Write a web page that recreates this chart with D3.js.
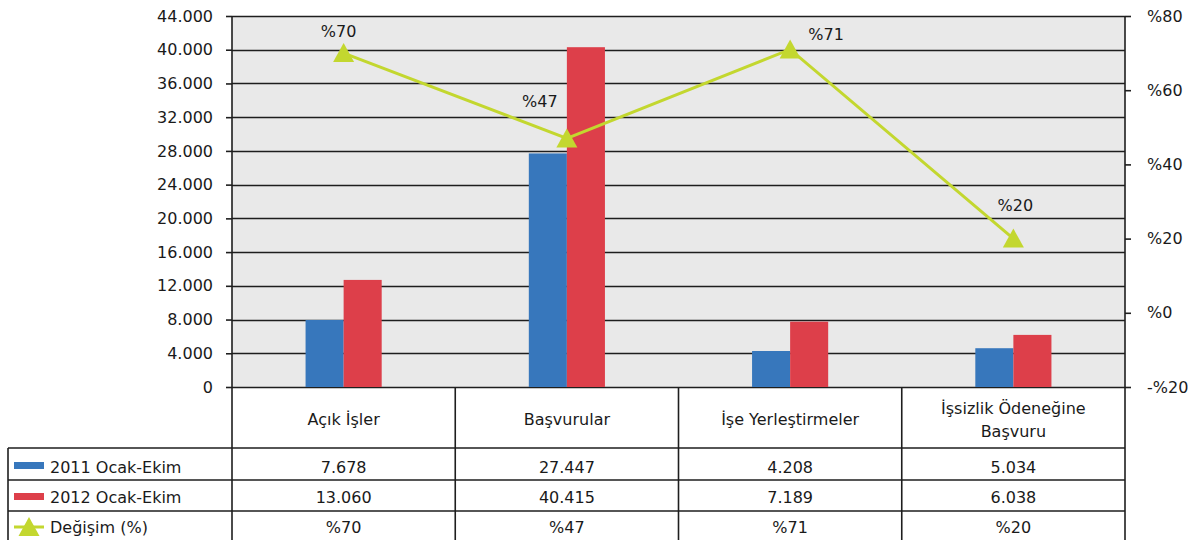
<!DOCTYPE html>
<html>
<head>
<meta charset="utf-8">
<script src="https://cdn.jsdelivr.net/npm/d3@7"></script>
<style>
  body { margin: 0; background: #fff; }
  text { font-family: "DejaVu Sans", sans-serif; fill: #1a1a1a; }
</style>
</head>
<body>
<div id="chart"></div>
<script>
// categories and values
var categories = ["Açık İşler", "Başvurular", "İşe Yerleştirmeler", "İşsizlik Ödeneğine Başvuru"];
var headerLines = [["Açık İşler"], ["Başvurular"], ["İşe Yerleştirmeler"], ["İşsizlik Ödeneğine", "Başvuru"]];
var seriesNames = ["2011 Ocak-Ekim", "2012 Ocak-Ekim", "Değişim (%)"];
// bar heights as drawn in the chart
var bars2011 = [7950, 27700, 4270, 4600];
var bars2012 = [12700, 40300, 7750, 6180];
// change line (right axis, %)
var change = [70, 47, 71, 20];
// table texts
var table2011 = ["7.678", "27.447", "4.208", "5.034"];
var table2012 = ["13.060", "40.415", "7.189", "6.038"];
var tableChange = ["%70", "%47", "%71", "%20"];
var leftTicks = d3.range(0, 44001, 4000);
var rightTicks = [-20, 0, 20, 40, 60, 80];

var width = 1201, height = 540;
var plotLeft = 232, plotRight = 1125, plotTop = 16, plotBottom = 387;
var tableLeft = 8;
var rowLines = [448, 480, 511];
var blue = "#3777bc", red = "#dd3f4a", green = "#c3d72f";

var svg = d3.select("#chart").append("svg")
    .attr("width", width)
    .attr("height", height);

var x = d3.scaleBand()
    .domain(categories)
    .range([plotLeft, plotRight])
    .paddingInner(0.659)
    .paddingOuter(0.3295);

var xs = d3.scaleBand()
    .domain([0, 1])
    .range([0, x.bandwidth()]);

var y = d3.scaleLinear().domain([0, 44000]).range([plotBottom, plotTop]);
var y2 = d3.scaleLinear().domain([-20, 80]).range([plotBottom, plotTop]);

var loc = d3.formatLocale({decimal: ",", thousands: ".", grouping: [3], currency: ["", ""]});
var fmt = loc.format(",");

// plot background
svg.append("rect")
    .attr("x", plotLeft).attr("y", plotTop)
    .attr("width", plotRight - plotLeft).attr("height", plotBottom - plotTop)
    .attr("fill", "#e9e9e9");

// grid lines
svg.selectAll(".grid")
    .data(leftTicks)
    .enter().append("line")
    .attr("class", "grid")
    .attr("x1", plotLeft).attr("x2", plotRight)
    .attr("y1", function(d) { return Math.round(y(d)) + 0.5; })
    .attr("y2", function(d) { return Math.round(y(d)) + 0.5; })
    .attr("stroke", "#1e1e1e")
    .attr("stroke-width", 1.6);

// bars
var groups = svg.selectAll(".cat")
    .data(categories)
    .enter().append("g")
    .attr("class", "cat")
    .attr("transform", function(d) { return "translate(" + x(d) + ",0)"; });

groups.append("rect")
    .attr("x", xs(0))
    .attr("width", xs.bandwidth())
    .attr("y", function(d, i) { return y(bars2011[i]); })
    .attr("height", function(d, i) { return y(0) - y(bars2011[i]); })
    .attr("fill", blue);

groups.append("rect")
    .attr("x", xs(1))
    .attr("width", xs.bandwidth())
    .attr("y", function(d, i) { return y(bars2012[i]); })
    .attr("height", function(d, i) { return y(0) - y(bars2012[i]); })
    .attr("fill", red);

// left axis
var leftAxis = svg.append("g")
    .attr("transform", "translate(" + plotLeft + ",0)")
    .call(d3.axisLeft(y).tickValues(leftTicks).tickSize(6).tickPadding(13).tickFormat(fmt));
leftAxis.select(".domain").remove();
leftAxis.selectAll("line").attr("stroke", "#1e1e1e").attr("stroke-width", 1.6);
leftAxis.selectAll("text").style("font-size", "16px").attr("fill", "#1a1a1a");

// right axis
var rightAxis = svg.append("g")
    .attr("transform", "translate(" + plotRight + ",0)")
    .call(d3.axisRight(y2).tickValues(rightTicks).tickSize(6).tickPadding(16)
      .tickFormat(function(d) { return d < 0 ? "-%" + (-d) : "%" + d; }));
rightAxis.select(".domain").remove();
rightAxis.selectAll("line").attr("stroke", "#1e1e1e").attr("stroke-width", 1.6);
rightAxis.selectAll("text").style("font-size", "16px").attr("fill", "#1a1a1a");

// change line
var cx = function(i) { return x(categories[i]) + x.bandwidth() / 2; };
var line = d3.line()
    .x(function(d, i) { return cx(i); })
    .y(function(d) { return y2(d); });

svg.append("path")
    .datum(change)
    .attr("d", line)
    .attr("fill", "none")
    .attr("stroke", green)
    .attr("stroke-width", 3);

var tri = "M0,-10L10.5,9L-10.5,9Z";
svg.selectAll(".marker")
    .data(change)
    .enter().append("path")
    .attr("class", "marker")
    .attr("d", tri)
    .attr("transform", function(d, i) { return "translate(" + cx(i) + "," + y2(d) + ")"; })
    .attr("fill", green);

// point labels, nudged like the original
var labelShift = [[-5, -16], [-27, -31], [36, -9], [2, -28]];
svg.selectAll(".plabel")
    .data(change)
    .enter().append("text")
    .attr("class", "plabel")
    .attr("x", function(d, i) { return cx(i) + labelShift[i][0]; })
    .attr("y", function(d, i) { return y2(d) + labelShift[i][1]; })
    .attr("text-anchor", "middle")
    .style("font-size", "16px")
    .text(function(d, i) { return tableChange[i]; });

// data table
var lineColor = "#1e1e1e";
var steps = d3.range(categories.length + 1).map(function(i) { return plotLeft + i * x.step(); });

// vertical lines
svg.selectAll(".vline")
    .data(steps)
    .enter().append("line")
    .attr("class", "vline")
    .attr("x1", function(d) { return d; }).attr("x2", function(d) { return d; })
    .attr("y1", function(d, i) { return (i === 0 || i === steps.length - 1) ? plotTop : plotBottom; })
    .attr("y2", height)
    .attr("stroke", lineColor)
    .attr("stroke-width", 1.6);

svg.append("line")
    .attr("x1", tableLeft).attr("x2", tableLeft)
    .attr("y1", rowLines[0]).attr("y2", height)
    .attr("stroke", lineColor).attr("stroke-width", 1.6);

svg.selectAll(".hline")
    .data(rowLines)
    .enter().append("line")
    .attr("class", "hline")
    .attr("x1", tableLeft).attr("x2", plotRight)
    .attr("y1", function(d) { return d; }).attr("y2", function(d) { return d; })
    .attr("stroke", lineColor)
    .attr("stroke-width", 1.6);

// header cells
var headers = svg.selectAll(".head")
    .data(headerLines)
    .enter().append("text")
    .attr("class", "head")
    .attr("text-anchor", "middle")
    .style("font-size", "16px");

headers.selectAll("tspan")
    .data(function(d, i) { return d.map(function(t) { return {t: t, i: i, n: d.length}; }); })
    .enter().append("tspan")
    .attr("x", function(d) { return cx(d.i); })
    .attr("y", function(d, j) { return d.n === 1 ? 425 : 414 + j * 23; })
    .text(function(d) { return d.t; });

// value rows
var rows = [table2011, table2012, tableChange];
var rowBase = [473, 503, 533];
rows.forEach(function(r, k) {
  svg.selectAll(".row" + k)
      .data(r)
      .enter().append("text")
      .attr("class", "row" + k)
      .attr("x", function(d, i) { return cx(i); })
      .attr("y", rowBase[k])
      .attr("text-anchor", "middle")
      .style("font-size", "16px")
      .text(function(d) { return d; });
});

// legend keys
svg.append("rect").attr("x", 14).attr("y", 462).attr("width", 30).attr("height", 7).attr("fill", blue);
svg.append("rect").attr("x", 14).attr("y", 493).attr("width", 30).attr("height", 7).attr("fill", red);
svg.append("line").attr("x1", 14).attr("x2", 44).attr("y1", 527).attr("y2", 527)
    .attr("stroke", green).attr("stroke-width", 3);
svg.append("path").attr("d", tri).attr("transform", "translate(29,527)").attr("fill", green);

svg.selectAll(".legtext")
    .data(seriesNames)
    .enter().append("text")
    .attr("class", "legtext")
    .attr("x", 50)
    .attr("y", function(d, i) { return rowBase[i]; })
    .style("font-size", "16px")
    .text(function(d) { return d; });
</script>
</body>
</html>
